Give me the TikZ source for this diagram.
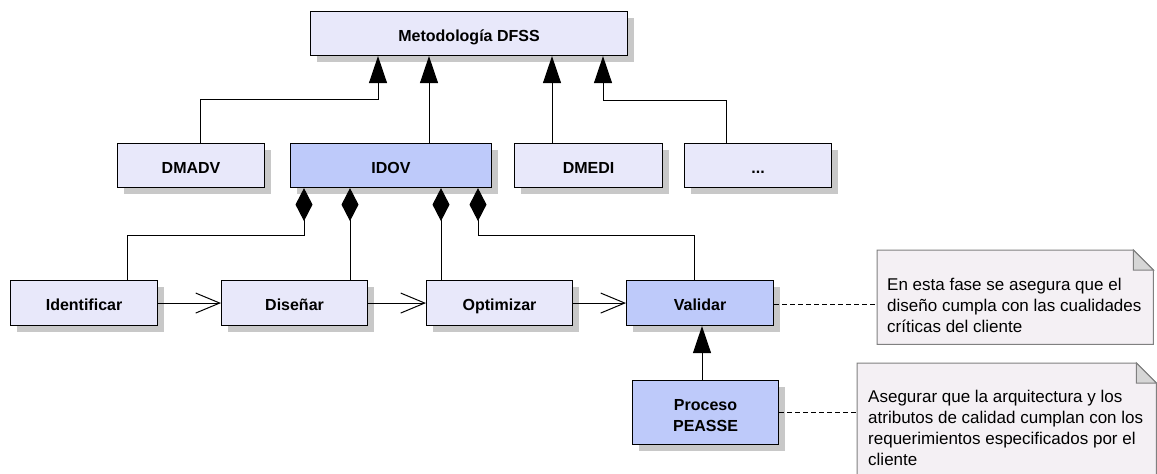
\documentclass[tikz,border=0pt]{standalone}
\usepackage{fontspec}
\setmainfont{Liberation Sans}
\usetikzlibrary{arrows.meta,calc}
\definecolor{boxlight}{RGB}{232,232,250}
\definecolor{boxblue}{RGB}{190,202,250}
\definecolor{notefill}{RGB}{244,240,244}
\definecolor{noteline}{RGB}{128,128,128}
\definecolor{foldfill}{RGB}{214,214,214}
\definecolor{shadowgray}{RGB}{200,200,200}
\begin{document}
\begin{tikzpicture}[x=1pt,y=-1pt,
  clsbase/.style={draw=black, line width=1.1pt, fill=boxlight, inner sep=0pt, anchor=north west,
     minimum width=147pt, minimum height=44pt,
     font=\fontsize{16}{21}\selectfont\bfseries,
     preaction={fill=shadowgray, draw=none, transform canvas={shift={(6pt,-6pt)}}}},
  cls/.style={clsbase, text height=15.5pt, text depth=0pt},
  clsb/.style={cls, fill=boxblue},
  notebox/.style={draw=none, inner sep=0pt, anchor=north west},
  noteshape/.style={draw=noteline, fill=notefill, line width=1pt},
  foldshape/.style={draw=noteline, fill=foldfill, line width=1pt},
  notetext/.style={inner sep=0pt, anchor=north west, align=left, font=\fontsize{17}{21}\selectfont},
  gen/.style={line width=1pt, -{Triangle[width=18pt,length=27pt]}},
  comp/.style={line width=1pt, {Diamond[width=17pt,length=33pt]}-},
  nav/.style={line width=1pt, -{Straight Barb[width=20pt,length=24pt,line width=1pt]}},
  anchorline/.style={line width=1pt, dash pattern=on 5pt off 3pt}
]
\useasboundingbox (0,0) rectangle (1157,474);
\clip (0,0) rectangle (1157,474);
\fill[white] (0,0) rectangle (1157,474);

% classes
\node[cls, minimum width=317pt] (dfss) at (310,11) {Metodología DFSS};
\node[cls] (dmadv) at (117,143) {DMADV};
\node[clsb, minimum width=201pt] (idov) at (290,143) {IDOV};
\node[cls, minimum width=148pt] (dmedi) at (514,143) {DMEDI};
\node[cls] (etc) at (684,143) {...};
\node[cls, minimum height=45pt] (ident) at (10,280) {Identificar};
\node[cls, minimum width=146pt, minimum height=45pt] (dis) at (221,280) {Diseñar};
\node[cls, minimum width=146pt, minimum height=45pt] (opt) at (426,280) {Optimizar};
\node[clsb, minimum height=45pt] (val) at (626,280) {Validar};
\node[clsbase, fill=boxblue, minimum width=146pt, minimum height=64pt]
  (proc) at (632,380) {\raisebox{-4pt}[\height][\depth]{\begin{tabular}{@{}c@{}}Proceso\\PEASSE\end{tabular}}};

% notes
\node[notebox, minimum width=276pt, minimum height=94pt] (note1) at (877,250) {};
\path[noteshape] (note1.north west) -- ([xshift=-20pt]note1.north east)
  -- ([yshift=-20pt]note1.north east) -- (note1.south east) -- (note1.south west) -- cycle;
\path[foldshape] ([xshift=-20pt]note1.north east) -- ([xshift=-20pt,yshift=-20pt]note1.north east)
  -- ([yshift=-20pt]note1.north east) -- cycle;
\node[notetext] (note1txt) at ([xshift=10pt,yshift=-27.6pt]note1.north west)
  {En esta fase se asegura que el\\diseño cumpla con las cualidades\\críticas del cliente};

\node[notebox, minimum width=299pt, minimum height=120pt] (note2) at (857,363) {};
\path[noteshape] (note2.north west) -- ([xshift=-20pt]note2.north east)
  -- ([yshift=-20pt]note2.north east) -- (note2.south east) -- (note2.south west) -- cycle;
\path[foldshape] ([xshift=-20pt]note2.north east) -- ([xshift=-20pt,yshift=-20pt]note2.north east)
  -- ([yshift=-20pt]note2.north east) -- cycle;
\node[notetext] (note2txt) at ([xshift=11pt,yshift=-26.7pt]note2.north west)
  {Asegurar que la arquitectura y los\\atributos de calidad cumplan con los\\requerimientos especificados por el\\cliente};

% generalizations to DFSS
\draw[gen] ([xshift=83pt]dmadv.north west) |- ([xshift=68pt,yshift=-43pt]dfss.south west)
  -- ([xshift=68pt]dfss.south west);
\draw[gen] ([xshift=139pt]idov.north west) -- ([xshift=119pt]dfss.south west);
\draw[gen] ([xshift=38pt]dmedi.north west) -- ([xshift=242pt]dfss.south west);
\draw[gen] ([xshift=42pt]etc.north west) |- ([xshift=293pt,yshift=-44pt]dfss.south west)
  -- ([xshift=293pt]dfss.south west);

% compositions from IDOV
\draw[comp] ([xshift=14pt]idov.south west) -- ([xshift=14pt,yshift=-47pt]idov.south west)
  -| ([xshift=117pt]ident.north west);
\draw[comp] ([xshift=60pt]idov.south west) -- ([xshift=129pt]dis.north west);
\draw[comp] ([xshift=151pt]idov.south west) -- ([xshift=15pt]opt.north west);
\draw[comp] ([xshift=188pt]idov.south west) -- ([xshift=188pt,yshift=-47pt]idov.south west)
  -| ([xshift=68pt]val.north west);

% navigation arrows
\draw[nav] (ident.east) -- (dis.west);
\draw[nav] (dis.east) -- (opt.west);
\draw[nav] (opt.east) -- (val.west);

% generalization Proceso -> Validar
\draw[gen] ([xshift=70pt]proc.north west) -- ([xshift=76pt]val.south west);

% note anchors
\draw[anchorline] ([yshift=-1.5pt]val.east) -- ([yshift=-1.5pt]val.east -| note1.west);
\draw[anchorline] (proc.east) -- (proc.east -| note2.west);
\end{tikzpicture}
\end{document}
